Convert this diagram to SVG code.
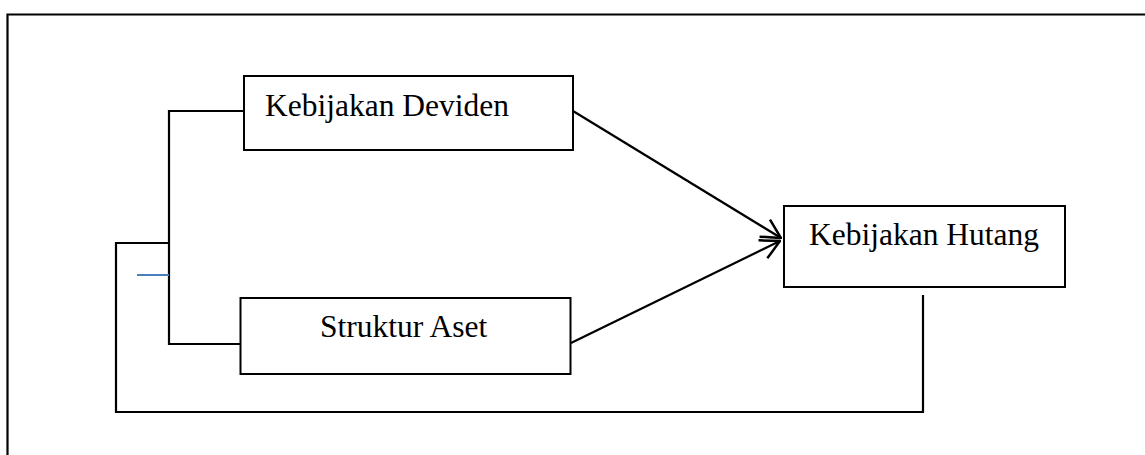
<svg xmlns="http://www.w3.org/2000/svg" width="1145" height="455" viewBox="0 0 1145 455">
  <defs>
    <style>
      .box { fill: #ffffff; stroke: #000000; stroke-width: 2; }
      .lbl { font-family: "Liberation Serif", "Times New Roman", serif; font-size: 31.5px; fill: #000000; }
      .ln { fill: none; stroke: #000000; stroke-width: 2.2; }
      .blue { fill: none; stroke: #4a7ebb; stroke-width: 2; }
    </style>
    <marker id="open" viewBox="0 0 24 24" refX="23" refY="12" markerWidth="24" markerHeight="24" markerUnits="userSpaceOnUse" orient="auto">
      <path d="M4,2 L23,12 L4,22" fill="none" stroke="#000000" stroke-width="2.5"/>
    </marker>
  </defs>
  <rect width="1145" height="455" fill="#ffffff"/>

  <!-- outer frame -->
  <path class="ln" d="M7.5,455 V14.5 H1145"/>

  <g id="connectors">
    <path class="ln" d="M244,111 H169 V344 H240"/>
    <path class="ln" d="M169,243 H116 V412 H923 V295"/>
    <path class="blue" d="M137,275 H169"/>
    <path class="ln" d="M573,111 L781,238" marker-end="url(#open)"/>
    <path class="ln" d="M571,343 L780,241" marker-end="url(#open)"/>
  </g>

  <g id="kebijakan-deviden">
    <rect class="box" x="244" y="76" width="329" height="74"/>
    <text class="lbl" x="265" y="116">Kebijakan Deviden</text>
  </g>

  <g id="struktur-aset">
    <rect class="box" x="240.5" y="298" width="330" height="76"/>
    <text class="lbl" x="320" y="337">Struktur Aset</text>
  </g>

  <g id="kebijakan-hutang">
    <rect class="box" x="784" y="206" width="281" height="81"/>
    <text class="lbl" x="809" y="245">Kebijakan Hutang</text>
  </g>
</svg>
